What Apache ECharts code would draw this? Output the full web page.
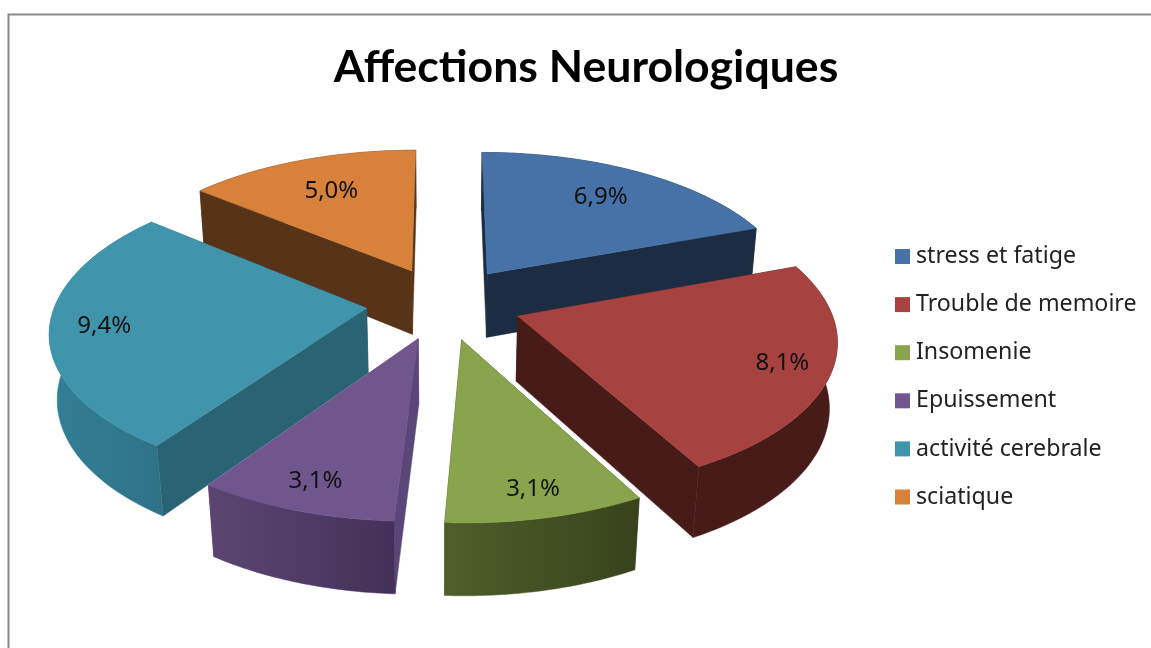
<!DOCTYPE html>
<html>
<head>
<meta charset="utf-8">
<style>html,body{margin:0;padding:0;background:#fff}#c{width:1151px;height:648px}</style>
<script src="https://cdn.jsdelivr.net/npm/echarts@6/dist/echarts.min.js"></script>
</head>
<body>
<div id="c"></div>
<script>
const categories = ['stress et fatige', 'Trouble de memoire', 'Insomenie', 'Epuissement', 'activité cerebrale', 'sciatique'];
const values = [6.9, 8.1, 3.1, 3.1, 9.4, 5.0];
const titleText = 'Affections Neurologiques';

// styling, not data
const topColors = ['#4672a7', '#a64340', '#88a44c', '#71568d', '#4095ad', '#d7813b'];
const cutColors = ['#1b2c43', '#471b18', '#3a431c', '#5a4678', '#2a6374', '#573418'];
const rimLeft = ['#1b2c43', '#471b18', '#4f5f2c', '#5b4672', '#327f95', '#573418'];
const rimRight = ['#1b2c43', '#471b18', '#38421b', '#433159', '#2f7288', '#573418'];
const paintOrder = [2, 4, 6, 5, 3, 1];
const labelReach = [0.73, 0.85, 0.86, 0.85, 0.83, 0.7];

const P = { cx: 444, cy: 303, A: 311, B: 146, k: 0.14, m: 0.02, H: 66, e: 0.25 };
const D = Math.PI / 180;
const total = values.reduce((a, b) => a + b, 0);

function project(u, v, z) {
  const w = 1 + P.k * v - P.m * z;
  return [P.cx + P.A * u / w, P.cy - (P.B * v + P.H * z) / w];
}

function sliceAngles(i) {
  let s = 0;
  for (let j = 0; j < i; j++) s += values[j];
  const a0 = s / total * 360 * D;
  const a1 = (s + values[i]) / total * 360 * D;
  return [a0, a1];
}

function renderSlice(params) {
  const i = params.seriesIndex;
  const [a0, a1] = sliceAngles(i);
  const mid = (a0 + a1) / 2;
  const ou = P.e * Math.sin(mid), ov = P.e * Math.cos(mid);
  const pt = (r, a, z) => project(ou + r * Math.sin(a), ov + r * Math.cos(a), z);
  const N = 48;
  const topArc = [], botArc = [];
  for (let n = 0; n <= N; n++) {
    const a = a0 + (a1 - a0) * n / N;
    topArc.push(pt(1, a, 0));
    botArc.push(pt(1, a, -1));
  }
  const poly = (points, fill, z2) => ({ type: 'polygon', z2, shape: { points }, style: { fill, stroke: fill, lineWidth: 0.5 } });
  const apexT = pt(0, 0, 0), apexB = pt(0, 0, -1);
  const rimFill = { type: 'linear', x: 0, y: 0, x2: 1, y2: 0, colorStops: [{ offset: 0, color: rimLeft[i] }, { offset: 1, color: rimRight[i] }] };
  const lp = pt(labelReach[i], mid, 0);
  return {
    type: 'group',
    children: [
      poly([apexT, topArc[0], botArc[0], apexB], cutColors[i], 1),
      poly([apexT, topArc[N], botArc[N], apexB], cutColors[i], 1),
      poly(topArc.concat(botArc.slice().reverse()), rimFill, 2),
      poly([apexT].concat(topArc), topColors[i], 3),
      { type: 'text', z2: 4, x: lp[0], y: lp[1], style: {
        text: values[i].toFixed(1).replace('.', ',') + '%',
        fill: '#111', font: '24px "Noto Sans"', align: 'center', verticalAlign: 'middle' } }
    ]
  };
}

const chart = echarts.init(document.getElementById('c'), null, { renderer: 'canvas' });
chart.setOption({
  animation: false,
  backgroundColor: '#ffffff',
  title: { text: titleText, left: 581, top: 40, textAlign: 'center',
    textStyle: { fontFamily: 'Lato', fontWeight: 'bold', fontSize: 44.6, color: '#000' } },
  legend: {
    orient: 'vertical', left: 890, top: 240, icon: 'rect', itemWidth: 15, itemHeight: 15, itemGap: 25.1, itemStyle: { borderWidth: 0 },
    textStyle: { fontFamily: 'Noto Sans', fontSize: 23.2, color: '#222', padding: [0, 0, 0, 1] },
    data: categories
  },
  graphic: [{ type: 'rect', z: -1, shape: { x: 8.5, y: 14.5, width: 1300, height: 800 }, style: { fill: 'none', stroke: '#8a8a8a', lineWidth: 2 } }],
  series: categories.map((name, i) => ({
    type: 'custom', name, coordinateSystem: 'none', silent: true, z: paintOrder[i] + 2,
    itemStyle: { color: topColors[i] }, data: [values[i]], renderItem: renderSlice
  }))
});
</script>
</body>
</html>
